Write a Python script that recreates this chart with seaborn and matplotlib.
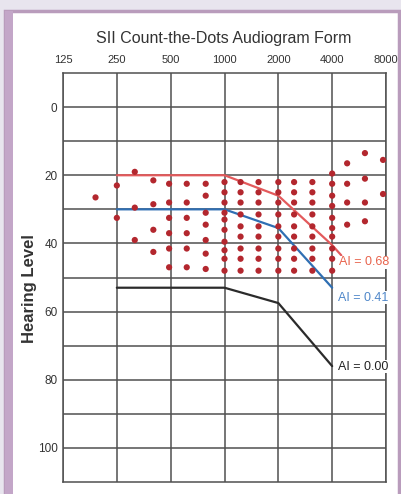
import numpy as np
import pandas as pd
import matplotlib
matplotlib.use("Agg")
import matplotlib.pyplot as plt
from matplotlib.patches import Rectangle
from matplotlib.ticker import NullLocator, FixedLocator
import seaborn as sns

# frequencies (Hz) of the dot columns and the levels (dB HL) of the dots in each column
dot_freqs = [190, 250, 315, 400, 490, 615, 785, 1000, 1230, 1550,
             2000, 2450, 3100, 4000, 4850, 6100, 7700]
dot_levels = [
    [26.5],
    [23, 32.5],
    [19, 29.5, 39],
    [21.5, 28.5, 36, 42.5],
    [22.5, 28, 32.5, 37, 41.5, 47],
    [22.5, 28, 32.5, 37, 41.5, 47],
    [22.5, 26, 31, 34.5, 39, 43, 47.5],
    [22, 25, 28, 31, 33, 36, 39.5, 42, 44.5, 48],
    [22, 25, 28, 31.5, 35, 38, 41.5, 44.5, 48],
    [22, 25, 28, 31.5, 35, 38, 41.5, 44.5, 48],
    [22, 25, 28, 31.5, 35, 38, 41.5, 44.5, 48],
    [22, 25, 28, 31.5, 35, 38, 41.5, 44.5, 48],
    [22, 25, 28, 31.5, 35, 38, 41.5, 44.5, 48],
    [19.5, 22.5, 26, 29, 32.5, 35.5, 38, 41.5, 44.5, 48],
    [16.5, 22.5, 28, 34.5],
    [13.5, 21, 28, 33.5],
    [15.5, 25.5],
]

# audiogram curves
red_freqs = [250, 1000, 2000, 4000, 4500]
red_levels = [20, 20, 26, 40.5, 43.5]
blue_freqs = [250, 1000, 2000, 4000]
blue_levels = [30, 30, 35.5, 53]
black_freqs = [250, 1000, 2000, 4000]
black_levels = [53, 53, 57.5, 76]

curve_labels = ["AI = 0.68", "AI = 0.41", "AI = 0.00"]
label_freqs = [4380, 4300, 4300]
label_levels = [45.5, 55.9, 76.2]

freq_ticks = [125, 250, 500, 1000, 2000, 4000, 8000]
level_ticks = [0, 20, 40, 60, 80, 100]
grid_levels = [10, 30, 50, 70, 90]

sns.set_style("white")
plt.rcParams['font.family'] = ['Liberation Sans', 'DejaVu Sans']

dots = pd.DataFrame({
    'freq': [f for f, lv in zip(dot_freqs, dot_levels) for _ in lv],
    'level': [v for lv in dot_levels for v in lv],
})

fig = plt.figure(figsize=(4.02, 4.94), dpi=100)
fig.patch.set_facecolor('#e8e5ee')

# white panel with mauve frame
fig.patches.append(Rectangle((5 / 402, -0.02), 394 / 402, 0.02 + 1 - 11 / 494,
                             transform=fig.transFigure, facecolor='white',
                             edgecolor='#b99cbc', linewidth=2.5, zorder=-5))
fig.patches.append(Rectangle((5 / 402, -0.02), 8 / 402, 0.02 + 1 - 11 / 494,
                             transform=fig.transFigure, facecolor='#c3a6c8',
                             edgecolor='none', zorder=-4))

ax = fig.add_axes([63 / 402, 12 / 494, 323 / 402, 409 / 494])
ax.set_facecolor('white')
ax.set_xscale('log', base=2)
ax.set_xlim(125, 8000)
ax.set_ylim(110, -10)

# grid
ax.xaxis.set_minor_locator(NullLocator())
ax.set_xticks(freq_ticks)
ax.set_xticklabels([str(f) for f in freq_ticks])
ax.set_yticks(level_ticks)
ax.yaxis.set_minor_locator(FixedLocator(grid_levels))
ax.grid(True, which='both', color='#505050', linewidth=1.1, zorder=1)
ax.set_axisbelow(True)
for s in ax.spines.values():
    s.set_color('#505050')
    s.set_linewidth(1.1)

ax.xaxis.tick_top()
ax.tick_params(axis='x', which='both', length=0, pad=6, labelsize=8, labelcolor='#333333')
ax.tick_params(axis='y', which='major', length=2.5, width=0.8, color='#555555',
               pad=1.5, labelsize=8.5, labelcolor='#333333')
ax.tick_params(axis='y', which='minor', length=0)

# dots
sns.scatterplot(data=dots, x='freq', y='level', ax=ax, color='#b3272e', s=20,
                edgecolor='none', zorder=4, clip_on=False, legend=False)

# curves
sns.lineplot(x=red_freqs, y=red_levels, ax=ax, color='#e35a5c', linewidth=1.6,
             sort=False, estimator=None, zorder=3)
sns.lineplot(x=blue_freqs, y=blue_levels, ax=ax, color='#2f6fb3', linewidth=1.6,
             sort=False, estimator=None, zorder=3)
sns.lineplot(x=black_freqs, y=black_levels, ax=ax, color='#2b2b2b', linewidth=1.6,
             sort=False, estimator=None, zorder=3)

label_colors = ['#e8634c', '#4f87c9', '#222222']
for txt, f, lv, c in zip(curve_labels, label_freqs, label_levels, label_colors):
    ax.text(f, lv, txt, color=c, fontsize=9, ha='left', va='center', zorder=5,
            bbox=dict(facecolor='white', edgecolor='none', pad=0.3))

ax.set_xlabel('')
ax.set_ylabel('')

fig.text(224 / 402, 1 - 38 / 494, 'SII Count-the-Dots Audiogram Form',
         ha='center', va='center', fontsize=11.5, color='#333333')
fig.text(30 / 402, 1 - 289 / 494, 'Hearing Level', rotation=90, ha='center',
         va='center', fontsize=12, fontweight='bold', color='#333333')

fig.savefig('out.png', dpi=100, facecolor=fig.get_facecolor())
